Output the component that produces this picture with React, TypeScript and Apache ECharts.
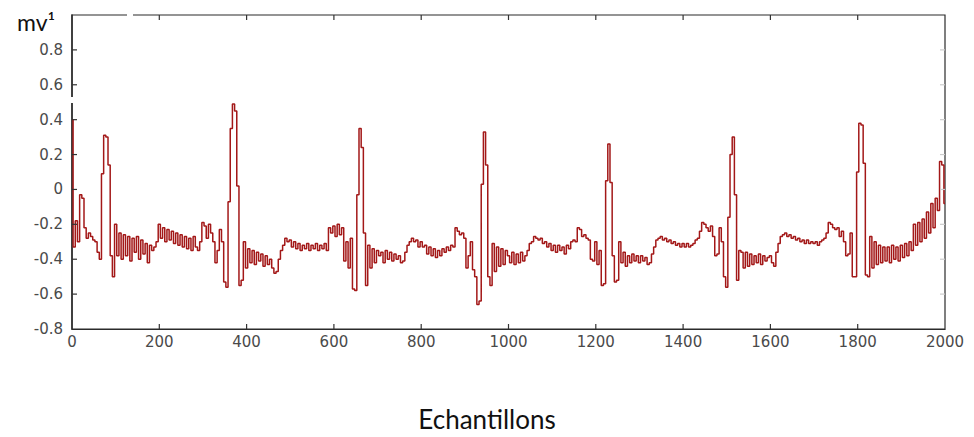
import React, { useEffect, useRef } from "react";
import * as echarts from "echarts";

// ECG signal, one value every 5 samples
const SAMPLE_STEP = 5;

const ecg0000 = [
  0.40, -0.33, -0.18, -0.30, -0.03, -0.05, -0.22, -0.28, -0.25, -0.27,
  -0.29, -0.30, -0.36, -0.40, 0.09, 0.31, 0.30, 0.14, -0.38, -0.50,
  -0.20, -0.38, -0.25, -0.40, -0.26, -0.38, -0.27, -0.41, -0.28, -0.36,
  -0.27, -0.40, -0.29, -0.37, -0.31, -0.42, -0.32, -0.35, -0.33, -0.30,
];
const ecg0200 = [
  -0.20, -0.28, -0.22, -0.30, -0.23, -0.29, -0.24, -0.31, -0.25, -0.32,
  -0.26, -0.33, -0.27, -0.34, -0.28, -0.35, -0.27, -0.33, -0.35, -0.30,
  -0.19, -0.21, -0.28, -0.20, -0.25, -0.30, -0.42, -0.35, -0.23, -0.30,
  -0.53, -0.56, -0.07, 0.35, 0.49, 0.45, 0.02, -0.55, -0.52, -0.30,
];
const ecg0400 = [
  -0.45, -0.34, -0.42, -0.35, -0.43, -0.36, -0.41, -0.37, -0.44, -0.38,
  -0.43, -0.40, -0.45, -0.48, -0.47, -0.40, -0.35, -0.32, -0.28, -0.30,
  -0.29, -0.33, -0.30, -0.34, -0.31, -0.35, -0.32, -0.34, -0.31, -0.35,
  -0.32, -0.34, -0.31, -0.35, -0.32, -0.34, -0.31, -0.35, -0.22, -0.25,
];
const ecg0600 = [
  -0.21, -0.27, -0.20, -0.26, -0.22, -0.41, -0.30, -0.45, -0.28, -0.57,
  -0.58, -0.03, 0.35, 0.24, -0.25, -0.55, -0.32, -0.45, -0.34, -0.42,
  -0.35, -0.38, -0.36, -0.42, -0.35, -0.40, -0.36, -0.41, -0.37, -0.40,
  -0.38, -0.42, -0.41, -0.36, -0.32, -0.30, -0.28, -0.30, -0.29, -0.33,
];
const ecg0800 = [
  -0.30, -0.33, -0.32, -0.37, -0.33, -0.38, -0.34, -0.39, -0.35, -0.38,
  -0.34, -0.36, -0.33, -0.35, -0.32, -0.33, -0.22, -0.24, -0.26, -0.25,
  -0.28, -0.45, -0.38, -0.30, -0.46, -0.50, -0.66, -0.64, 0.03, 0.33,
  0.14, -0.50, -0.55, -0.31, -0.47, -0.33, -0.44, -0.34, -0.43, -0.35,
];
const ecg1000 = [
  -0.38, -0.42, -0.36, -0.43, -0.37, -0.42, -0.36, -0.41, -0.38, -0.35,
  -0.31, -0.30, -0.27, -0.28, -0.29, -0.28, -0.31, -0.30, -0.33, -0.31,
  -0.35, -0.32, -0.36, -0.32, -0.35, -0.33, -0.37, -0.32, -0.34, -0.30,
  -0.29, -0.30, -0.22, -0.23, -0.27, -0.26, -0.28, -0.29, -0.40, -0.41,
];
const ecg1200 = [
  -0.30, -0.43, -0.35, -0.55, -0.54, 0.05, 0.26, 0.04, -0.38, -0.53,
  -0.52, -0.30, -0.42, -0.36, -0.44, -0.38, -0.42, -0.37, -0.41, -0.38,
  -0.42, -0.38, -0.41, -0.39, -0.43, -0.42, -0.37, -0.33, -0.29, -0.28,
  -0.27, -0.29, -0.28, -0.30, -0.29, -0.31, -0.30, -0.32, -0.31, -0.33,
];
const ecg1400 = [
  -0.31, -0.33, -0.31, -0.33, -0.32, -0.31, -0.29, -0.28, -0.24, -0.19,
  -0.20, -0.22, -0.24, -0.21, -0.27, -0.38, -0.37, -0.22, -0.30, -0.50,
  -0.56, -0.16, 0.20, 0.30, -0.03, -0.52, -0.35, -0.36, -0.45, -0.36,
  -0.44, -0.37, -0.43, -0.38, -0.42, -0.37, -0.43, -0.38, -0.41, -0.39,
];
const ecg1600 = [
  -0.38, -0.42, -0.44, -0.36, -0.31, -0.27, -0.26, -0.25, -0.27, -0.26,
  -0.28, -0.27, -0.29, -0.28, -0.30, -0.29, -0.31, -0.29, -0.31, -0.30,
  -0.31, -0.30, -0.32, -0.30, -0.29, -0.28, -0.25, -0.19, -0.20, -0.22,
  -0.23, -0.22, -0.27, -0.24, -0.30, -0.38, -0.37, -0.25, -0.50, -0.50,
];
const ecg1800 = [
  0.10, 0.38, 0.37, 0.15, -0.49, -0.50, -0.27, -0.45, -0.30, -0.43,
  -0.32, -0.42, -0.33, -0.41, -0.33, -0.42, -0.32, -0.40, -0.33, -0.41,
  -0.32, -0.39, -0.31, -0.38, -0.30, -0.35, -0.20, -0.32, -0.19, -0.30,
  -0.17, -0.28, -0.13, -0.25, -0.08, -0.22, -0.05, -0.12, 0.16, 0.14,
  -0.08,
];

const xTicks = { min: 0, max: 2000, interval: 200 };
const yTicks = { min: -0.8, max: 1, interval: 0.2 };
const xTickValues = [200, 400, 600, 800, 1000, 1200, 1400, 1600, 1800];
const yTickValues = [-0.6, -0.4, -0.2, 0, 0.2, 0.4, 0.6, 0.8];

const signal = [
  ...ecg0000, ...ecg0200, ...ecg0400, ...ecg0600, ...ecg0800,
  ...ecg1000, ...ecg1200, ...ecg1400, ...ecg1600, ...ecg1800,
];

export default function App() {
  const ref = useRef<HTMLDivElement>(null);
  useEffect(() => {
    if (!ref.current) return;
    const chart = echarts.init(ref.current, null, { renderer: "svg" });
    const axisColor = "#2b2b2b";
    const tickColor = "#333333";
    const TICK = 5;
    const labelStyle = {
      color: "#4a4a4a",
      fontFamily: "DejaVu Sans",
      fontSize: 15,
    };
    const fmtY = (v: number) => {
      const r = Math.round(v * 10) / 10;
      if (r >= 1) return "";
      return String(r);
    };
    const fmtX = (v: number) => String(Math.round(v));

    const xTickRender = (_params: any, api: any) => {
      const x = api.value(0);
      const b = api.coord([x, yTicks.min]);
      const t = api.coord([x, yTicks.max]);
      return {
        type: "group",
        children: [
          {
            type: "line",
            shape: { x1: b[0], y1: b[1], x2: b[0], y2: b[1] - TICK },
            style: { stroke: tickColor, lineWidth: 1.2 },
          },
          {
            type: "line",
            shape: { x1: t[0], y1: t[1], x2: t[0], y2: t[1] + TICK },
            style: { stroke: tickColor, lineWidth: 1.2 },
          },
        ],
      };
    };
    const yTickRender = (_params: any, api: any) => {
      const y = api.value(1);
      const l = api.coord([xTicks.min, y]);
      const r = api.coord([xTicks.max, y]);
      return {
        type: "group",
        children: [
          {
            type: "line",
            shape: { x1: l[0], y1: l[1], x2: l[0] + TICK, y2: l[1] },
            style: { stroke: tickColor, lineWidth: 1.2 },
          },
          {
            type: "line",
            shape: { x1: r[0], y1: r[1], x2: r[0] - TICK, y2: r[1] },
            style: { stroke: "#cccccc", lineWidth: 1.2 },
          },
        ],
      };
    };

    chart.setOption({
      animation: false,
      backgroundColor: "#ffffff",
      grid: {
        left: 72,
        right: 29,
        top: 15,
        bottom: 107,
        show: true,
        borderColor: axisColor,
        borderWidth: 1.2,
        backgroundColor: "transparent",
      },
      xAxis: {
        type: "value",
        min: xTicks.min,
        max: xTicks.max,
        interval: xTicks.interval,
        axisLine: { show: true, onZero: false, lineStyle: { color: axisColor, width: 1.2 } },
        axisTick: { show: false },
        axisLabel: { ...labelStyle, margin: 5, formatter: fmtX },
        splitLine: { show: false },
        name: "Echantillons",
        nameLocation: "middle",
        nameGap: 77,
        nameTextStyle: {
          fontFamily: "Lato",
          fontSize: 26,
          color: "#111",
          padding: [0, 43, 0, 0],
        },
      },
      yAxis: {
        type: "value",
        min: yTicks.min,
        max: yTicks.max,
        interval: yTicks.interval,
        axisLine: { show: true, onZero: false, lineStyle: { color: axisColor, width: 1.5 } },
        axisTick: { show: false },
        axisLabel: { ...labelStyle, margin: 9, formatter: fmtY },
        splitLine: { show: false },
      },
      graphic: [
        {
          type: "text",
          left: 17,
          top: 10,
          style: {
            text: "mv¹",
            fontFamily: "Lato",
            fontSize: 23,
            fill: "#111",
          },
        },
        {
          type: "rect",
          shape: { x: 127, y: 12, width: 6, height: 6 },
          style: { fill: "#ffffff" },
          z: 100,
        },
        {
          type: "rect",
          shape: { x: 69, y: 97, width: 6, height: 6 },
          style: { fill: "#ffffff" },
          z: 100,
        },
      ],
      series: [
        {
          type: "custom",
          name: "xTickMarks",
          silent: true,
          renderItem: xTickRender,
          data: xTickValues.map((v) => [v, yTicks.min]),
          z: 5,
        },
        {
          type: "custom",
          name: "yTickMarks",
          silent: true,
          renderItem: yTickRender,
          data: yTickValues.map((v) => [xTicks.min, v]),
          z: 5,
        },
        {
          type: "line",
          name: "ECG",
          step: "middle",
          showSymbol: false,
          symbol: "none",
          lineStyle: { color: "#a31818", width: 1.5 },
          data: signal.map((v, i) => [i * SAMPLE_STEP, v]),
          z: 3,
        },
      ],
    });
    return () => chart.dispose();
  }, []);
  return (
    <div
      ref={ref}
      style={{ position: "fixed", left: 0, top: 0, width: 974, height: 437 }}
    />
  );
}
